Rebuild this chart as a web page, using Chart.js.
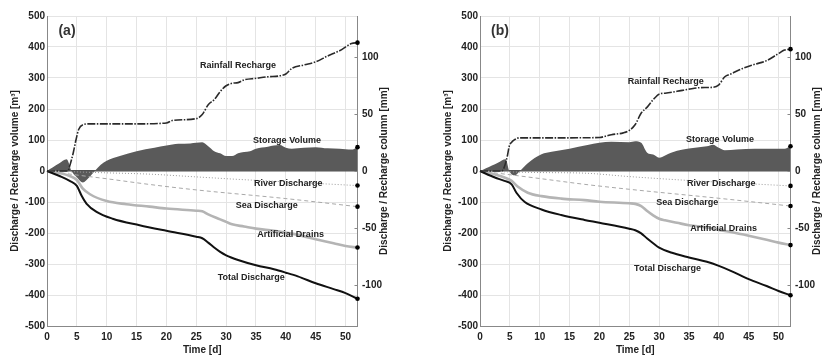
<!DOCTYPE html>
<html>
<head>
<meta charset="utf-8">
<script src="https://cdn.jsdelivr.net/npm/chart.js@4"></script>
<style>
  body { margin: 0; background: #fff; }
  .panel { position: absolute; top: 0; }
</style>
</head>
<body>
<div class="panel" style="left:0px"><canvas id="chartA" width="389" height="355"></canvas></div>
<div class="panel" style="left:433px"><canvas id="chartB" width="389" height="355"></canvas></div>
<script>
// === Data, panel (a) === //
const rainA_t = [0, 3.5, 3.8, 4.4, 4.85, 5.3, 6.1, 7, 10, 15, 20, 21, 25, 26, 27, 28, 29, 30, 31, 32, 33, 35, 37, 39, 40, 41, 43, 45, 47, 49, 51, 52]
const rainA_v = [0, 0, 16, 59, 100, 134, 150, 152, 152, 152, 155, 163, 169, 182, 214, 230, 256, 275, 283, 285, 294, 299, 304, 307, 313, 331, 342, 352, 371, 388, 411, 414]

const storeA_t = [0, 1, 2, 3.3, 4.1, 5, 6, 7, 8, 9, 10, 12.2, 15, 18, 20, 22, 24, 25, 26, 27, 28, 29, 30, 31, 32, 33, 34, 35, 37, 38, 39, 40, 41, 43, 45, 47, 49, 51, 52]
const storeA_v = [0, 12, 24, 38, 0, -20, -37, -22, 0, 20, 33, 48, 64, 75, 82, 88, 89, 91, 93, 80, 64, 57, 48, 48, 57, 61, 64, 72, 78, 82, 84, 75, 72, 75, 77, 73, 72, 69, 77]

const riverA_t = [0, 5, 10, 17, 25, 32, 40, 52]
const riverA_v = [0, -3, -6, -10, -19, -27, -35, -47]

const seaA_t = [0, 2, 5, 10, 17, 25, 40, 52]
const seaA_v = [0, -5, -13, -25, -43, -61, -89, -115]

const drainA_t = [0, 2.2, 3.8, 5, 6, 7.2, 10, 13.3, 17.2, 20, 25, 26, 27, 29, 30, 31, 33, 35, 38, 40, 42, 45, 48, 50, 52]
const drainA_v = [0, -7, -16, -29, -57, -75, -97, -107, -115, -121, -128, -130, -140, -156, -164, -172, -179, -186, -193, -199, -206, -220, -233, -242, -247]

const totalA_t = [0, 2.2, 3.8, 5, 5.8, 6.6, 8.3, 11, 15.5, 20, 25, 26, 27, 28, 29, 30, 32, 35, 38, 40, 42, 45, 48, 50, 52]
const totalA_v = [0, -17, -32, -48, -80, -105, -132, -154, -175, -193, -212, -217, -231, -247, -261, -272, -287, -304, -317, -328, -340, -362, -381, -394, -412]

// === Data, panel (b) === //
const rainB_t = [0, 3.6, 3.9, 4.3, 4.6, 4.9, 5.3, 5.8, 6.6, 10, 15, 20, 21, 22, 24, 25, 26, 27, 28, 29, 30, 31, 33, 35, 37, 39, 40, 41, 42, 44, 46, 48, 50, 51, 52]
const rainB_v = [0, 0, 5, 27, 50, 80, 93, 101, 107, 107, 107, 108, 112, 117, 123, 131, 150, 187, 206, 230, 248, 251, 257, 264, 269, 270, 278, 304, 313, 331, 344, 356, 379, 390, 393]

const storeB_t = [0, 1, 2, 3, 4.3, 4.9, 5.8, 6.7, 8, 10.3, 12, 15, 18, 20, 22, 25, 26, 27, 28, 29, 30, 31, 32, 34, 36, 38, 39, 40, 41, 43, 46, 49, 51, 52]
const storeB_v = [0, 9, 18, 27, 38, 0, -14, 0, 25, 54, 62, 72, 84, 91, 94, 93, 96, 91, 59, 53, 43, 50, 59, 69, 75, 80, 85, 75, 67, 69, 72, 72, 72, 80]

const riverB_t = [0, 5, 10, 17.5, 25, 32, 40, 52]
const riverB_v = [0, -3, -5, -7, -18, -27, -36, -48]

const seaB_t = [0, 2, 5, 10.3, 17.5, 25, 40, 52]
const seaB_v = [0, -5, -12, -25, -43, -59, -88, -113]

const drainB_t = [0, 2.5, 4.1, 5.3, 6.3, 8, 10.3, 13.6, 17.5, 20, 25, 26, 27, 28, 29, 30, 31, 33, 35, 38, 40, 42, 45, 48, 50, 52]
const drainB_v = [0, -11, -21, -32, -50, -70, -81, -89, -94, -99, -104, -106, -113, -129, -143, -154, -159, -167, -175, -182, -190, -197, -209, -222, -231, -239]

const totalB_t = [0, 2.5, 4.1, 5.3, 6.1, 7.5, 10.3, 13.6, 17.5, 20, 25, 26, 27, 28, 29, 30, 32, 35, 38, 40, 42, 45, 48, 50, 52]
const totalB_v = [0, -21, -32, -43, -70, -100, -124, -142, -158, -167, -186, -191, -201, -218, -233, -247, -263, -279, -293, -306, -322, -349, -371, -387, -401]

// === Labels === //
const seriesNames = ["Rainfall Recharge", "Storage Volume", "River Discharge", "Sea Discharge", "Artificial Drains", "Total Discharge"]
const labelA_x = [32.0, 40.2, 40.4, 36.8, 40.8, 34.2]
const labelA_y = [341, 99, -40, -110, -206, -343]
const labelB_x = [31.1, 40.2, 40.4, 34.7, 40.8, 31.4]
const labelB_y = [289, 101, -41, -103, -187, -316]

const leftTitle = 'Discharge / Recharge volume [m³]'
const rightTitle = 'Discharge / Recharge column [mm]'
const rightTicks = [-100, -50, 0, 50, 100]
const mmRange = 136   // right axis limits (mm), matching +-500 m3

const FONT = "'Liberation Sans', Arial, sans-serif"
Chart.defaults.font.family = FONT
Chart.defaults.color = '#222'

function pts(t, v) { return t.map((x, i) => ({ x: x, y: v[i] })) }

function endDot(n) {
  return ctx => ctx.dataIndex === n - 1 ? 2.3 : 0
}

// series labels, panel tag, right-axis title (reads bottom-to-top) and inward ticks
const labelPlugin = {
  id: 'seriesLabels',
  afterDatasetsDraw(chart, args, opts) {
    const ctx = chart.ctx
    const xs = chart.scales.x, ys = chart.scales.y, y2 = chart.scales.y2
    ctx.save()
    ctx.font = "bold 9px " + FONT
    ctx.fillStyle = '#222'
    ctx.textAlign = 'center'
    ctx.textBaseline = 'middle'
    opts.names.forEach((name, i) => {
      ctx.fillText(name, xs.getPixelForValue(opts.xs[i]), ys.getPixelForValue(opts.ys[i]))
    })
    ctx.font = "bold 14px " + FONT
    ctx.fillStyle = '#333'
    ctx.fillText(opts.tag, xs.getPixelForValue(3.35), ys.getPixelForValue(450))

    ctx.strokeStyle = '#888'
    ctx.lineWidth = 1
    rightTicks.forEach(v => {
      const py = Math.round(y2.getPixelForValue(v)) + 0.5
      ctx.beginPath()
      ctx.moveTo(y2.left - 3, py)
      ctx.lineTo(y2.left, py)
      ctx.stroke()
    })

    ctx.font = "bold 10px " + FONT
    ctx.fillStyle = '#222'
    ctx.translate(y2.right - 5, (chart.chartArea.top + chart.chartArea.bottom) / 2)
    ctx.rotate(-Math.PI / 2)
    ctx.fillText(rightTitle, 0, 0)
    ctx.restore()
  }
}

function buildPanel(id, d) {
  const common = { pointBackgroundColor: '#000', pointBorderWidth: 0, clip: 6 }
  const datasets = [
    Object.assign({
      label: 'Storage Volume', data: pts(d.store_t, d.store_v), order: 10,
      fill: 'origin', backgroundColor: '#5a5a5a', borderWidth: 0, borderColor: '#5a5a5a',
      pointRadius: endDot(d.store_t.length)
    }, common),
    Object.assign({
      label: 'River Discharge', data: pts(d.river_t, d.river_v), order: 5,
      borderColor: '#9a9a9a', borderWidth: 1, borderDash: [1, 2],
      pointRadius: endDot(d.river_t.length)
    }, common),
    Object.assign({
      label: 'Sea Discharge', data: pts(d.sea_t, d.sea_v), order: 5,
      borderColor: '#a8a8a8', borderWidth: 1, borderDash: [4, 3],
      pointRadius: endDot(d.sea_t.length)
    }, common),
    Object.assign({
      label: 'Artificial Drains', data: pts(d.drain_t, d.drain_v), order: 4,
      borderColor: '#b4b4b4', borderWidth: 2.6,
      pointRadius: endDot(d.drain_t.length)
    }, common),
    Object.assign({
      label: 'Total Discharge', data: pts(d.total_t, d.total_v), order: 3,
      borderColor: '#111', borderWidth: 2,
      pointRadius: endDot(d.total_t.length)
    }, common),
    Object.assign({
      label: 'Rainfall Recharge', data: pts(d.rain_t, d.rain_v), order: 2,
      borderColor: '#2a2a2a', borderWidth: 1.6, borderDash: [8, 1.5, 1.5, 1.5],
      pointRadius: endDot(d.rain_t.length)
    }, common)
  ]

  const tickFont = { size: 10, weight: 'bold' }
  const titleFont = { size: 10, weight: 'bold', lineHeight: 1 }

  return new Chart(document.getElementById(id), {
    type: 'line',
    data: { datasets },
    plugins: [labelPlugin],
    options: {
      responsive: false,
      animation: false,
      cubicInterpolationMode: 'monotone',
      layout: { padding: { top: 16, left: 0, right: 0, bottom: 0 } },
      plugins: {
        legend: { display: false },
        tooltip: { enabled: false },
        seriesLabels: { names: seriesNames, xs: d.lab_x, ys: d.lab_y, tag: d.tag }
      },
      scales: {
        x: {
          type: 'linear', min: 0, max: 52,
          ticks: { stepSize: 5, includeBounds: false, font: tickFont, color: '#222', padding: 5, maxRotation: 0 },
          grid: { color: '#e4e4e4', drawTicks: false },
          border: { color: '#888', width: 1 },
          title: { display: true, text: 'Time [d]', font: titleFont, color: '#222', padding: 0 },
          afterFit: s => { s.height = 29 }
        },
        y: {
          position: 'left', min: -500, max: 500,
          ticks: { stepSize: 100, font: tickFont, color: '#222', padding: 2 },
          grid: {
            drawTicks: false,
            color: c => c.tick && c.tick.value === 0 ? '#505050' : '#e4e4e4',
            lineWidth: c => c.tick && c.tick.value === 0 ? 1.6 : 1
          },
          border: { color: '#888', width: 1 },
          title: { display: true, text: leftTitle, font: titleFont, color: '#222', padding: { top: 10.5, bottom: 0 } },
          afterFit: s => { s.width = 47 }
        },
        y2: {
          position: 'right', min: -mmRange, max: mmRange,
          afterBuildTicks: s => { s.ticks = rightTicks.map(v => ({ value: v })) },
          ticks: { font: tickFont, color: '#222', padding: 4.5 },
          grid: { drawOnChartArea: false, drawTicks: false },
          border: { color: '#888', width: 1 },
          title: { display: false },
          afterFit: s => { s.width = 31.5 }
        }
      }
    }
  })
}

buildPanel('chartA', {
  tag: '(a)',
  rain_t: rainA_t, rain_v: rainA_v, store_t: storeA_t, store_v: storeA_v,
  river_t: riverA_t, river_v: riverA_v, sea_t: seaA_t, sea_v: seaA_v,
  drain_t: drainA_t, drain_v: drainA_v, total_t: totalA_t, total_v: totalA_v,
  lab_x: labelA_x, lab_y: labelA_y
})

buildPanel('chartB', {
  tag: '(b)',
  rain_t: rainB_t, rain_v: rainB_v, store_t: storeB_t, store_v: storeB_v,
  river_t: riverB_t, river_v: riverB_v, sea_t: seaB_t, sea_v: seaB_v,
  drain_t: drainB_t, drain_v: drainB_v, total_t: totalB_t, total_v: totalB_v,
  lab_x: labelB_x, lab_y: labelB_y
})
</script>
</body>
</html>
